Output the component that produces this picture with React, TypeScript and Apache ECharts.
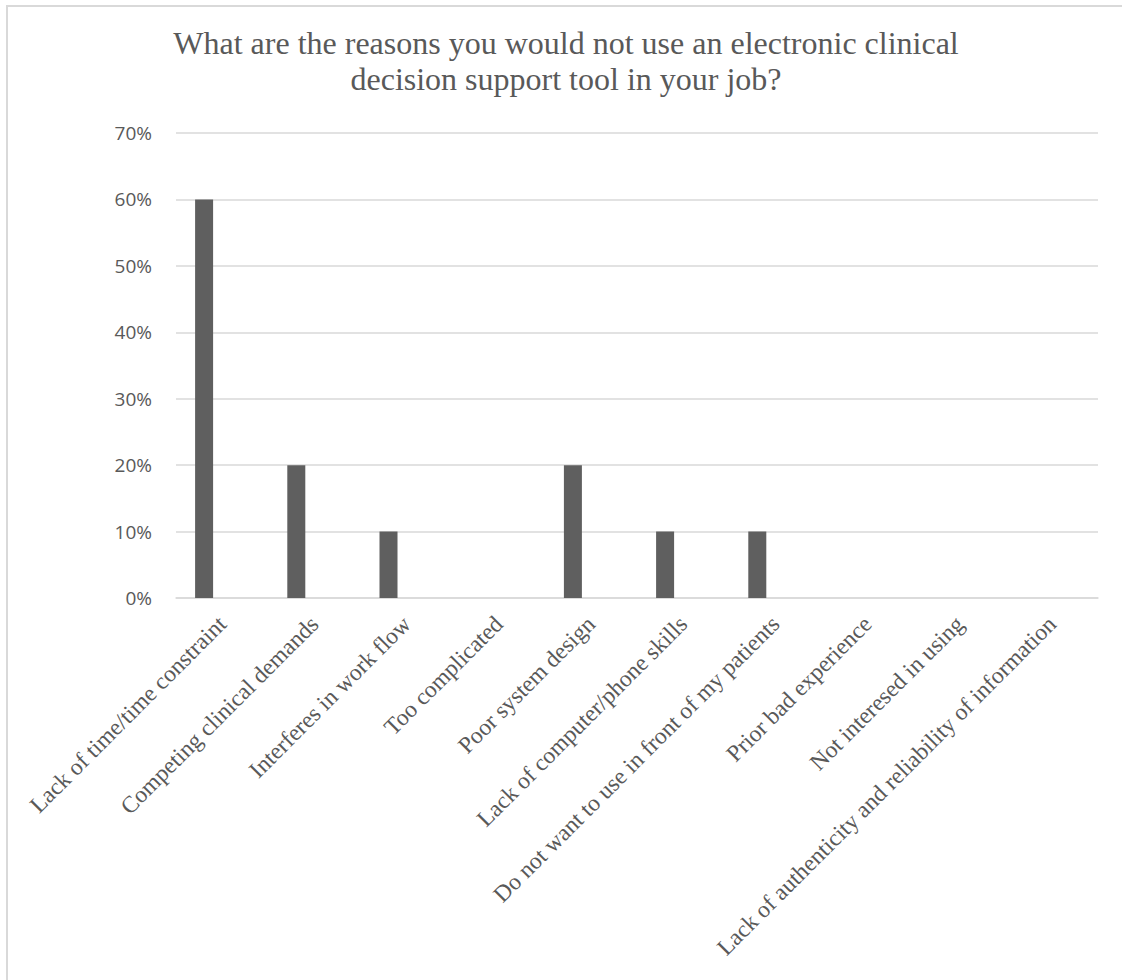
import React, { useEffect, useRef } from "react";
import * as echarts from "echarts";

const titleText =
  "What are the reasons you would not use an electronic clinical\ndecision support tool in your job?";

const categories = [
  "Lack of time/time constraint",
  "Competing clinical demands",
  "Interferes in work flow",
  "Too complicated",
  "Poor system design",
  "Lack of computer/phone skills",
  "Do not want to use in front of my patients",
  "Prior bad experience",
  "Not interesed in using",
  "Lack of authenticity and reliability of information",
];

const responseShare = [0.6, 0.2, 0.1, 0, 0.2, 0.1, 0.1, 0, 0, 0];
// Two further (empty) series occupy the remaining slots of each category cluster
const emptySeriesB = [null, null, null, null, null, null, null, null, null, null];
const emptySeriesC = [null, null, null, null, null, null, null, null, null, null];

const yTicks = { min: 0, max: 0.7, interval: 0.1 };

export default function App() {
  const ref = useRef<HTMLDivElement>(null);

  useEffect(() => {
    if (!ref.current) return;
    const chart = echarts.init(ref.current, undefined, { renderer: "svg" });
    const grey = "#595959";
    const barColor = "#5f5f5f";
    chart.setOption({
      animation: false,
      backgroundColor: "#ffffff",
      title: {
        text: titleText,
        left: 561,
        top: 20,
        textAlign: "center",
        textStyle: {
          fontFamily: "Liberation Serif",
          fontWeight: "normal",
          fontSize: 32,
          lineHeight: 36,
          color: grey,
        },
      },
      graphic: [
        {
          type: "rect",
          shape: { x: 7, y: 6, width: 1300, height: 1200 },
          style: { fill: "none", stroke: "#d9d9d9", lineWidth: 2 },
          silent: true,
          z: -1,
        },
      ],
      grid: { left: 176, right: 24, top: 133, bottom: 382, containLabel: false },
      xAxis: {
        type: "category",
        data: categories,
        axisLine: { show: true, lineStyle: { color: "#d9d9d9", width: 1.5 } },
        axisTick: { show: false },
        axisLabel: {
          interval: 0,
          rotate: 45,
          margin: 22,
          fontFamily: "Liberation Serif",
          fontSize: 23.5,
          color: grey,
        },
      },
      yAxis: {
        type: "value",
        min: yTicks.min,
        max: yTicks.max,
        interval: yTicks.interval,
        axisLine: { show: false },
        axisTick: { show: false },
        splitLine: { lineStyle: { color: "#d9d9d9", width: 1.5 } },
        axisLabel: {
          margin: 24,
          fontFamily: "Open Sans",
          fontSize: 19,
          color: grey,
          formatter: (v: number) => `${Math.round(v * 100)}%`,
        },
      },
      series: [
        {
          type: "bar",
          data: responseShare,
          barWidth: 18,
          barGap: "0%",
          itemStyle: { color: barColor },
        },
        {
          type: "bar",
          data: emptySeriesB,
          barWidth: 18,
          barGap: "0%",
          itemStyle: { color: barColor },
        },
        {
          type: "bar",
          data: emptySeriesC,
          barWidth: 18,
          barGap: "0%",
          itemStyle: { color: barColor },
        },
      ],
    });
    return () => chart.dispose();
  }, []);

  return (
    <div
      ref={ref}
      style={{
        position: "fixed",
        left: 0,
        top: 0,
        width: 1122,
        height: 980,
        background: "#fff",
      }}
    />
  );
}
